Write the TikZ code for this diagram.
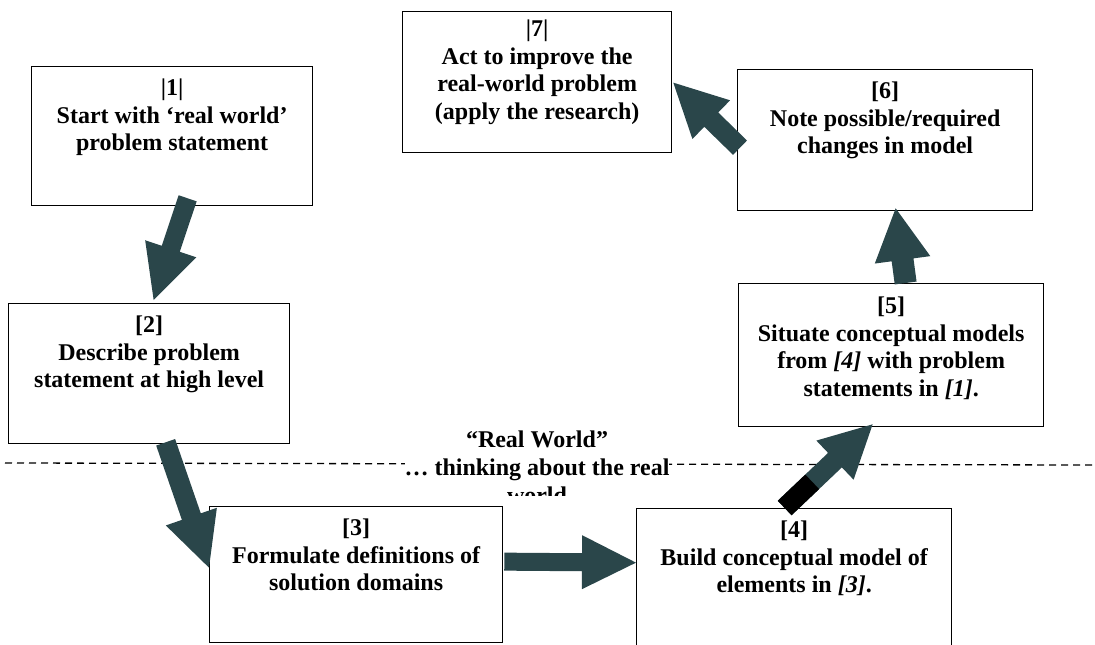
\documentclass[tikz,border=0pt]{standalone}
\usepackage{fontspec}
\setmainfont{Liberation Serif}
\usetikzlibrary{calc}
\definecolor{arrowcol}{RGB}{42,70,74}
\tikzset{
  box/.style={draw=black, line width=1.3pt, rectangle, inner sep=0pt, anchor=north west},
  boxtext/.style={anchor=north, align=center, inner sep=0pt, font=\fontsize{24}{27.5}\selectfont\bfseries},
  divider/.style={draw=black, line width=1.3pt, dash pattern=on 7pt off 5pt},
  zonelabel/.style={align=center, inner sep=0pt, fill=white, font=\fontsize{24}{28}\selectfont\bfseries},
}
% #1 name, #2 tail, #3 tip, #4 half shaft, #5 half head, #6 head length
\newcommand\blockarr[6]{%
  \coordinate (#1m) at ($(#3)!#6!(#2)$);
  \fill[arrowcol] ($(#2)!#4!90:(#3)$) -- ($(#1m)!#4!90:(#3)$) -- ($(#1m)!#5!90:(#3)$)
    -- (#3) -- ($(#1m)!#5!-90:(#3)$) -- ($(#1m)!#4!-90:(#3)$) -- ($(#2)!#4!-90:(#3)$) -- cycle;}
\begin{document}
\begin{tikzpicture}[x=1pt,y=-1pt]
\useasboundingbox (0,0) rectangle (1095,645);
\fill[white] (0,0) rectangle (1095,645);

% divider
\coordinate (dl) at (5,463);
\coordinate (dr) at (1092,465);
\draw[divider] (dl) -- (dr);
\begin{scope}
  \clip (0,0) rectangle (1095,495);
  \node[zonelabel] (zone) at (537,467) {“Real World”\\… thinking about the real\\world};
\end{scope}

% boxes
\node[box, minimum width=281pt, minimum height=139pt] (b1) at (31,66) {};
\node[box, minimum width=281pt, minimum height=140pt] (b2) at (8,303) {};
\node[box, minimum width=293pt, minimum height=136pt] (b3) at (209,506) {};
\node[box, minimum width=315pt, minimum height=145pt] (b4) at (636,508) {};
\node[box, minimum width=305pt, minimum height=143pt] (b5) at (738,283) {};
\node[box, minimum width=295pt, minimum height=141pt] (b6) at (737,69) {};
\node[box, minimum width=269pt, minimum height=141pt] (b7) at (402,11) {};

% texts
\node[boxtext] (t1) at ($(b1.north)+(0,13)$) {|1|\\Start with ‘real world’\\problem statement};
\node[boxtext] (t2) at ($(b2.north)+(0,13)$) {[2]\\Describe problem\\statement at high level};
\node[boxtext] (t3) at ($(b3.north)+(0,13)$) {[3]\\Formulate definitions of\\solution domains};
\node[boxtext] (t4) at ($(b4.north)+(0,13)$) {[4]\\Build conceptual model of\\elements in \textit{[3]}.};
\node[boxtext] (t5) at ($(b5.north)+(0,14)$) {[5]\\Situate conceptual models\\from \textit{[4]} with problem\\statements in \textit{[1]}.};
\node[boxtext] (t6) at ($(b6.north)+(0,13)$) {[6]\\Note possible/required\\changes in model};
\node[boxtext] (t7) at ($(b7.north)+(0,9)$) {|7|\\Act to improve the\\real-world problem\\(apply the research)};

% connectors
\coordinate (a12s) at ($(b1.south)+(15.5,-8)$);
\coordinate (a12e) at ($(b2.north)+(4.5,-3)$);
\blockarr{a12}{a12s}{a12e}{9.5pt}{27pt}{54pt}

\coordinate (a23s) at ($(b2.south)+(16.5,-2)$);
\coordinate (a23e) at ($(b3.west)+(0,-7)$);
\blockarr{a23}{a23s}{a23e}{10pt}{27pt}{54pt}

\coordinate (a34s) at ($(b3.east)+(1,-13)$);
\coordinate (a34e) at ($(b4.west)+(0,-18.5)$);
\blockarr{a34}{a34s}{a34e}{9pt}{27pt}{54pt}

\coordinate (a45s) at ($(b4.north)+(-9.5,0)$);
\coordinate (a45e) at ($(b5.south)+(-18.5,-3)$);
\blockarr{a45}{a45s}{a45e}{10pt}{27pt}{52pt}
\coordinate (a45q) at ($(a45s)!38pt!(a45e)$);
\fill[black] ($(a45s)!10pt!90:(a45e)$) -- ($(a45q)!10pt!90:(a45e)$) -- ($(a45q)!10pt!-90:(a45e)$) -- ($(a45s)!10pt!-90:(a45e)$) -- cycle;

\coordinate (a56s) at ($(b5.north)+(14.5,0)$);
\coordinate (a56e) at ($(b6.south)+(10.5,-3)$);
\blockarr{a56}{a56s}{a56e}{11pt}{28pt}{52pt}

\coordinate (a67s) at ($(b6.west)+(3,7.5)$);
\coordinate (a67e) at ($(b7.east)+(1,0.5)$);
\blockarr{a67}{a67s}{a67e}{10pt}{27pt}{53pt}
\end{tikzpicture}
\end{document}
